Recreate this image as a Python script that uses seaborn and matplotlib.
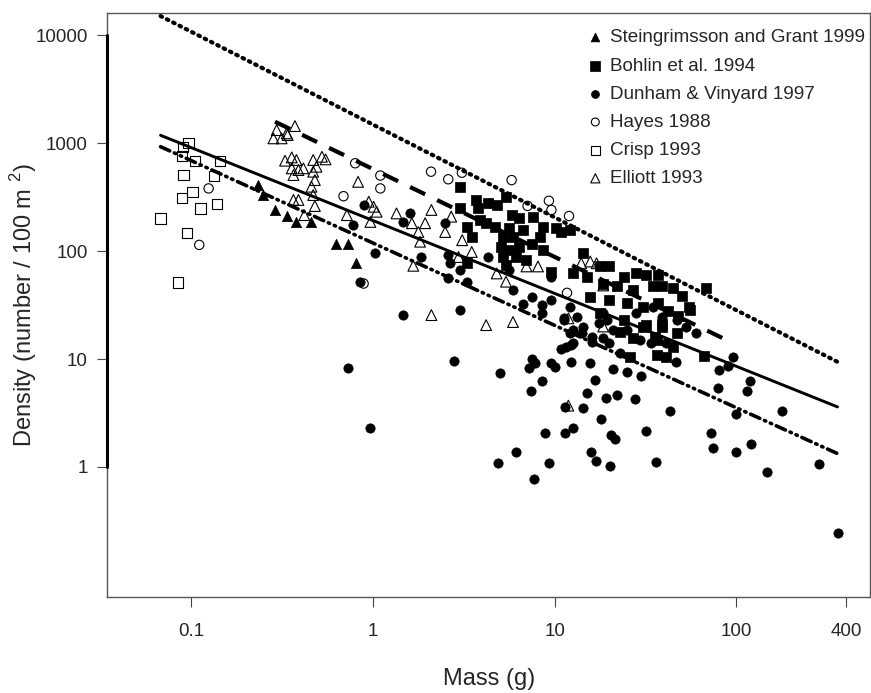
import numpy as np
import pandas as pd
import matplotlib
matplotlib.use("Agg")
import matplotlib.pyplot as plt
import seaborn as sns

sns.set_style("white")
plt.rcParams['font.family'] = ['Liberation Sans', 'DejaVu Sans']
plt.rcParams['mathtext.fontset'] = 'custom'
plt.rcParams['mathtext.rm'] = 'Liberation Sans'

# ---- data (mass g, density per 100 m2) ----
stein_mass = [0.234, 0.25, 0.29, 0.336, 0.38, 0.46, 0.63, 0.73, 0.81]
stein_dens = [408, 330, 240, 211, 186, 186, 117, 117, 77]

bohlin_mass = [3.0, 3.7, 3.0, 3.8, 3.3, 3.5, 3.3, 4.3, 4.8, 5.4, 3.9, 4.2, 4.7, 5.8, 6.4,
               5.6, 5.2, 5.9, 6.7, 5.1, 5.6, 6.4, 5.2, 6.1, 7.0, 7.5, 8.6, 8.3, 7.6, 5.4,
               8.6, 9.6, 10.2, 10.9, 12.2, 14.4, 12.7, 15, 17.8, 20, 24, 28, 31.8, 37, 18.5,
               21.9, 26.9, 34.6, 38.9, 15.7, 20, 24.9, 30.7, 37, 17.8, 24, 30.7, 38.9, 36.5,
               55.7, 66, 45, 41, 36.5, 26, 27, 32, 39, 47, 35.5, 23,
               45, 50, 55, 68, 48, 42]
bohlin_dens = [389, 297, 248, 248, 168, 135, 77, 277, 267, 318, 194, 181, 168, 215, 201,
               162, 135, 135, 156, 110, 102, 110, 88, 88, 83, 117, 168, 135, 208, 74,
               102, 64, 162, 150, 156, 95, 62, 58, 72, 72, 58, 62, 60, 60, 50,
               47, 43.5, 47, 47, 37.8, 35, 32.8, 30.5, 32.8, 26.5, 23, 20, 20, 15,
               28.4, 10.7, 13, 10.5, 10.9, 10.5, 15.5, 20.6, 21, 17.3, 16, 17.9,
               45, 38, 30, 45, 25, 28]

dunham_mass = [0.89, 0.78, 1.03, 0.85, 1.6, 1.47, 2.5, 2.6, 2.67, 3.0, 3.3, 2.6, 1.85, 1.47,
               3.0, 4.4, 4.3, 5.6, 5.9, 6.7, 7.5, 8.5, 9.5, 8.5, 11.2, 9.5,
               2.8, 5.0, 7.2, 7.5, 7.8, 9.5, 10.1, 8.5, 7.4, 12.3, 10.9, 12.3, 15.7, 16.7,
               15, 14.4, 11.4, 18, 12.7, 11.4, 8.8, 6.1, 4.9, 7.7, 9.3, 15.8, 16.8, 20.1,
               20.3, 21.6, 19.2, 22, 27.8, 21, 25, 30, 31.7, 36, 43, 46.5, 72, 74, 100,
               121, 148, 178, 285, 360, 100, 96, 80, 90, 79, 119, 115,
               0.97, 0.73,
               11.2, 12.7, 14.1, 16, 11.6, 12.7, 16, 18.5, 20, 23, 17.6, 19.4, 21, 24.9,
               29.5, 34, 41, 47, 53, 60, 12.2, 13.2, 14.4, 18.5, 28, 34.6, 39, 12.2]
dunham_dens = [267, 174, 95, 52, 223, 186, 181, 92, 77, 67, 52, 56, 88, 25.5,
               28.4, 277, 88, 67, 43.5, 32, 37.8, 31.6, 35, 26.5, 23, 58,
               9.6, 7.4, 8.2, 10.1, 9.1, 9.1, 8.5, 6.2, 5.1, 9.4, 12.3, 13.5, 9.2, 6.4,
               4.8, 3.5, 3.6, 2.76, 2.28, 2.08, 2.05, 1.39, 1.1, 0.77, 1.1, 1.37, 1.14, 1.02,
               1.98, 1.8, 4.4, 4.6, 4.3, 8.0, 7.6, 6.9, 2.15, 1.12, 3.3, 9.3, 2.05, 1.5, 1.39,
               1.63, 0.89, 3.3, 1.07, 0.243, 3.1, 10.5, 7.9, 8.6, 5.4, 6.2, 5.1,
               2.3, 8.2,
               23.8, 18.6, 17.3, 16, 13, 14, 14.4, 15.5, 14, 11.3, 21.5, 23, 18.6, 18.6,
               15, 14, 14, 23, 20, 17.3, 30.5, 24.6, 20, 26.5, 26.5, 30.5, 24.6, 17.3]

hayes_mass = [0.125, 0.111, 0.69, 0.8, 0.89, 1.1, 1.1, 2.09, 2.6, 3.09, 5.8, 9.3, 9.6, 12, 7.1, 11.7]
hayes_dens = [380, 114, 322, 650, 50, 500, 380, 543, 462, 531, 454, 292, 240, 211, 262, 41]

crisp_mass = [0.097, 0.090, 0.089, 0.105, 0.144, 0.091, 0.134, 0.102, 0.089, 0.139, 0.113,
              0.068, 0.095, 0.085]
crisp_dens = [1007, 925, 759, 681, 681, 505, 495, 354, 308, 271, 248, 200, 146, 51]

elliott_mass = [0.373, 0.296, 0.336, 0.284, 0.315, 0.34,
                0.329, 0.358, 0.38, 0.358, 0.39, 0.415, 0.366, 0.47, 0.525, 0.55, 0.49, 0.47,
                0.48, 0.46, 0.47, 0.48, 0.366, 0.39, 0.42, 0.83, 0.95, 1.01, 0.97, 0.72, 1.05,
                1.35, 1.64, 1.94, 1.78, 2.1, 2.5, 1.82, 1.67, 2.96, 2.7, 3.1, 3.5, 4.8, 5.4,
                7.0, 8.1, 2.1, 4.2, 5.9, 14, 15.7, 17, 18.5, 11.9, 18.5, 11.9]
elliott_dens = [1436, 1318, 1230, 1105, 1105, 1186,
                686, 736, 697, 583, 562, 583, 505, 697, 747, 706, 603, 543,
                454, 394, 330, 261, 297, 297, 215, 437, 286, 257, 186, 215, 231,
                223, 181, 181, 150, 240, 150, 122, 73, 88, 208, 126, 98, 62, 52,
                72, 72, 25.5, 20.6, 22, 77, 80, 77, 48, 23.8, 20, 3.7]

# fitted lines: end points
fit_mass = [0.068, 360]
fit_solid = [1180, 3.6]
fit_dotted = [15000, 9.4]
fit_dashdot = [925, 1.33]
dash_mass = [0.29, 96]
fit_dashed = [1575, 14]

labels = ["Steingrimsson and Grant 1999", "Bohlin et al. 1994", "Dunham & Vinyard 1997",
          "Hayes 1988", "Crisp 1993", "Elliott 1993"]

fig = plt.figure(figsize=(8.71, 6.93), dpi=100)
ax = fig.add_axes([0.1228, 0.1385, 0.8766, 0.8427])

series = [
    (stein_mass, stein_dens, '^', True, 55),
    (bohlin_mass, bohlin_dens, 's', True, 60),
    (dunham_mass, dunham_dens, 'o', True, 45),
    (hayes_mass, hayes_dens, 'o', False, 45),
    (crisp_mass, crisp_dens, 's', False, 55),
    (elliott_mass, elliott_dens, '^', False, 60),
]
for (mx, dy, mk, filled, size), lab in zip(series, labels):
    df = pd.DataFrame({"mass": mx, "density": dy})
    if filled:
        sns.scatterplot(data=df, x="mass", y="density", marker=mk, s=size, color="black",
                        edgecolor="black", linewidth=0.5, label=lab, ax=ax, zorder=3)
    else:
        sns.scatterplot(data=df, x="mass", y="density", marker=mk, s=size, facecolor="none",
                        edgecolor="black", linewidth=0.8, label=lab, ax=ax, zorder=3)

ax.plot(fit_mass, fit_solid, color="black", lw=2.1, zorder=4)
ax.plot(fit_mass, fit_dotted, color="black", lw=3.0, linestyle=(0, (0.4, 1.3)),
        dash_capstyle="round", zorder=4)
ax.plot(fit_mass, fit_dashdot, color="black", lw=2.6,
        linestyle=(0, (2.8, 1.4, 0.4, 1.4, 0.4, 1.4)), dash_capstyle="round", zorder=4)
ax.plot(dash_mass, fit_dashed, color="black", lw=3.0, linestyle=(0, (4, 3.2)), zorder=4)

ax.set_xscale("log")
ax.set_yscale("log")
ax.set_xlim(0.0345, 546)
ax.set_ylim(0.0625, 16000)
ax.set_xticks([0.1, 1, 10, 100, 400])
ax.set_xticklabels(["0.1", "1", "10", "100", "400"])
ax.set_yticks([1, 10, 100, 1000, 10000])
ax.set_yticklabels(["1", "10", "100", "1000", "10000"])
ax.minorticks_off()
ax.tick_params(axis="both", which="major", direction="out", length=7, width=0.8,
               color="#444444", labelsize=13.5, bottom=True, left=True)
ax.tick_params(axis="x", pad=12)
ax.tick_params(axis="y", pad=7)

for sp in ax.spines.values():
    sp.set_color("#555555")
    sp.set_linewidth(1.0)
ax.plot([0, 0], [1, 10000], transform=ax.get_yaxis_transform(), color="black",
        lw=2.2, clip_on=False, zorder=5)

ax.set_xlabel("Mass (g)", fontsize=17, labelpad=20)
ax.set_ylabel("Density (number / 100 m $^{2}$)", fontsize=17)
ax.yaxis.set_label_coords(-0.089, 0.5)

leg = ax.legend(loc="upper left", bbox_to_anchor=(0.605, 0.995), frameon=False,
                fontsize=13.6, markerscale=0.85, handlelength=1.4, handletextpad=0.1,
                labelspacing=0.58, borderaxespad=0.3)

fig.savefig("out.png", dpi=100)
